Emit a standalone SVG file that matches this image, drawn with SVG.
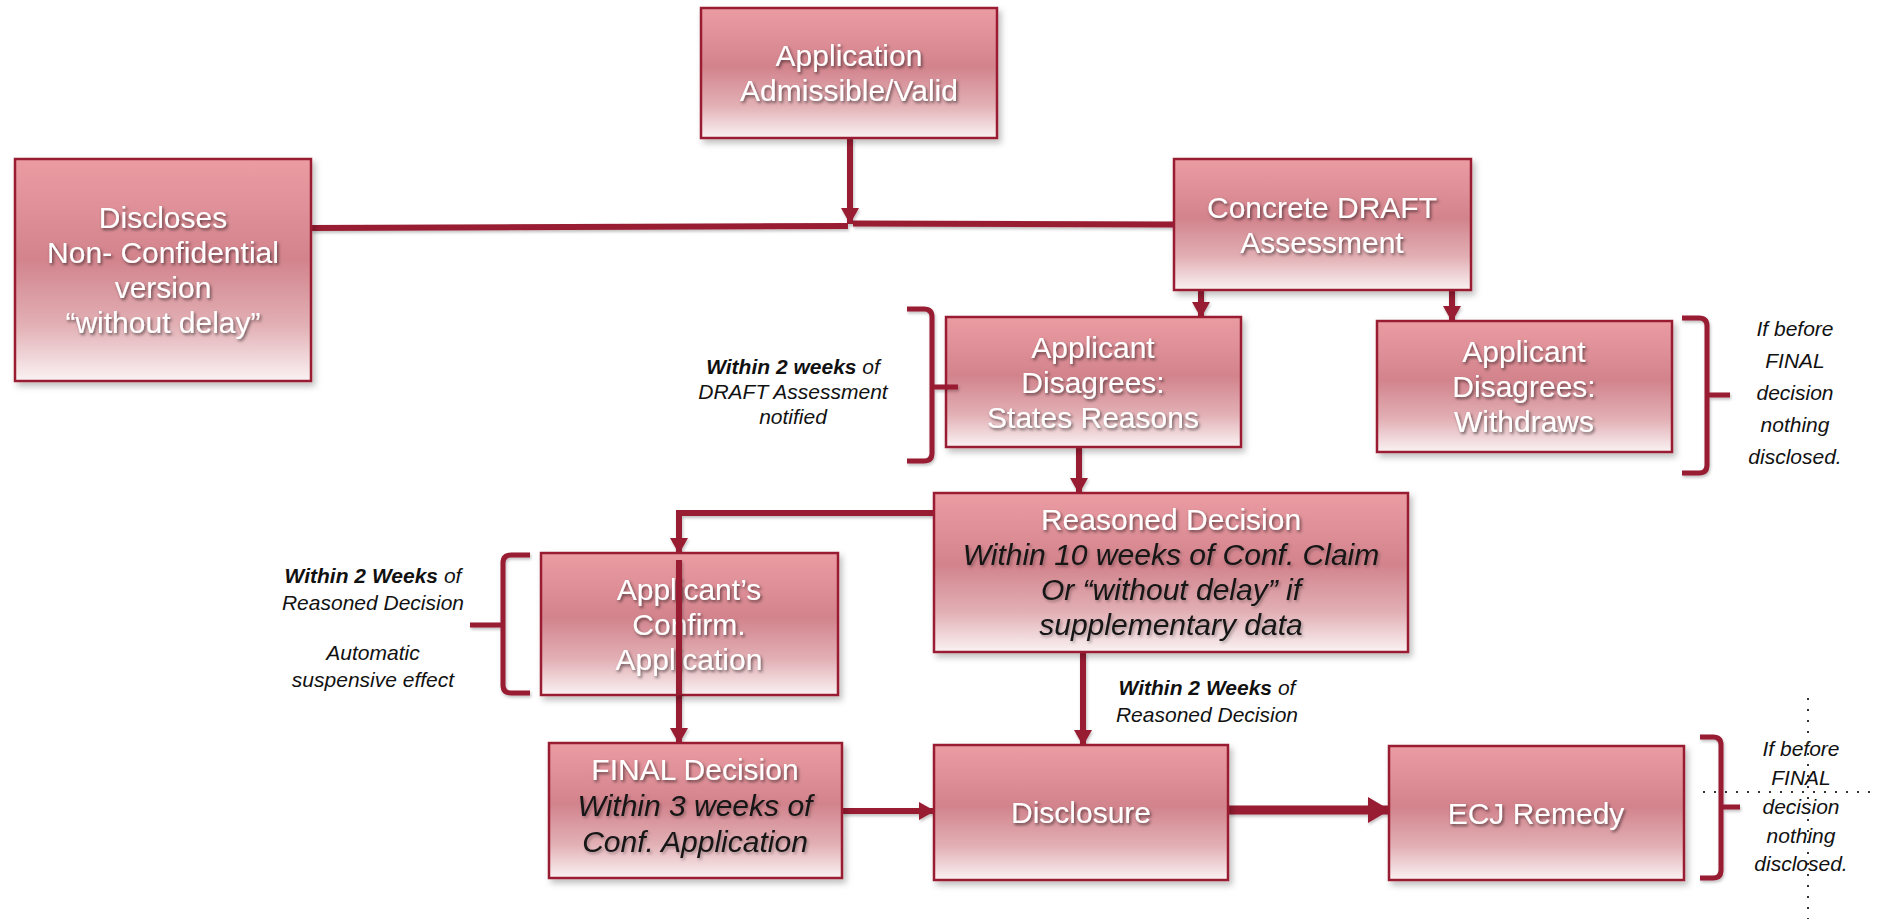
<svg xmlns="http://www.w3.org/2000/svg" width="1878" height="919" viewBox="0 0 1878 919">
<defs>
<linearGradient id="boxFill" x1="0" y1="0" x2="0" y2="1">
<stop offset="0" stop-color="#eb9ca3"/>
<stop offset="0.45" stop-color="#d2838c"/>
<stop offset="0.75" stop-color="#e2b0b5"/>
<stop offset="1" stop-color="#faf2f3"/>
</linearGradient>
<filter id="boxShadow" x="-5%" y="-5%" width="115%" height="120%">
<feDropShadow dx="3" dy="4" stdDeviation="3" flood-color="#000" flood-opacity="0.25"/>
</filter>
<filter id="txtShadow" x="-10%" y="-30%" width="120%" height="160%">
<feDropShadow dx="1.5" dy="2" stdDeviation="1.8" flood-color="#000" flood-opacity="0.55"/>
</filter>
<filter id="txtShadowDark" x="-10%" y="-30%" width="120%" height="160%">
<feDropShadow dx="1.5" dy="2" stdDeviation="1.8" flood-color="#000" flood-opacity="0.3"/>
</filter>
<filter id="lineShadow" filterUnits="userSpaceOnUse" x="0" y="0" width="1878" height="919">
<feDropShadow dx="1" dy="2" stdDeviation="1.5" flood-color="#000" flood-opacity="0.25"/>
</filter>
<marker id="arr" markerUnits="userSpaceOnUse" markerWidth="20" markerHeight="20" viewBox="0 0 20 20" refX="18" refY="10" orient="auto">
<path d="M2,1 L18,10 L2,19 Z" fill="#981c31"/>
</marker>
<marker id="arrBig" markerUnits="userSpaceOnUse" markerWidth="26" markerHeight="28" viewBox="0 0 26 28" refX="24" refY="14" orient="auto">
<path d="M2,1 L24,14 L2,27 Z" fill="#981c31"/>
</marker>
</defs>
<style>
.box{fill:url(#boxFill);stroke:#9a1f33;stroke-width:2.5;filter:url(#boxShadow)}
.t{font-family:"Liberation Sans",Arial,sans-serif;font-size:30px;fill:#ffffff;text-anchor:middle;filter:url(#txtShadow)}
.ti{font-family:"Liberation Sans",Arial,sans-serif;font-size:30px;font-style:italic;fill:#141414;text-anchor:middle;filter:url(#txtShadowDark)}
.conn{fill:none;stroke:#981c31;stroke-width:6;filter:url(#lineShadow)}
.brace{fill:none;stroke:#981c31;stroke-width:5;stroke-linejoin:round;filter:url(#lineShadow)}
.note{font-family:"Liberation Sans",Arial,sans-serif;font-size:21px;font-style:italic;fill:#111;text-anchor:middle}
.b{font-weight:bold}
.dots{fill:none;stroke:#333;stroke-width:2;stroke-dasharray:2 9}
</style>

<g id="connectors">
<line class="conn" x1="850" y1="138" x2="850" y2="224" marker-end="url(#arr)"/>
<path class="conn" d="M311,228 L848,226"/>
<path class="conn" d="M853,223.5 L1174,224.5"/>
<line class="conn" x1="1201" y1="282" x2="1201" y2="318" marker-end="url(#arr)"/>
<line class="conn" x1="1452" y1="284" x2="1452" y2="322" marker-end="url(#arr)"/>
<line class="conn" x1="1079" y1="447" x2="1079" y2="494" marker-end="url(#arr)"/>
<path class="conn" d="M934,513 H679 V554" marker-end="url(#arr)"/>
<line class="conn" x1="679" y1="554" x2="679" y2="744" marker-end="url(#arr)"/>
<line class="conn" x1="1083" y1="652" x2="1083" y2="746" marker-end="url(#arr)"/>
<line class="conn" x1="842" y1="811" x2="935" y2="811" marker-end="url(#arr)"/>
<line class="conn" x1="1228" y1="810" x2="1390" y2="810" style="stroke-width:9" marker-end="url(#arrBig)"/>
</g>

<g id="n-application">
<rect class="box" x="701" y="8" width="296" height="130"/>
<text class="t" x="849" y="66">Application</text>
<text class="t" x="849" y="101">Admissible/Valid</text>
</g>

<g id="n-discloses">
<rect class="box" x="15" y="159" width="296" height="222"/>
<text class="t" x="163" y="228">Discloses</text>
<text class="t" x="163" y="263">Non- Confidential</text>
<text class="t" x="163" y="298">version</text>
<text class="t" x="163" y="333">“without delay”</text>
</g>

<g id="n-concrete">
<rect class="box" x="1174" y="159" width="297" height="131"/>
<text class="t" x="1322" y="218">Concrete DRAFT</text>
<text class="t" x="1322" y="253">Assessment</text>
</g>

<g id="n-states-reasons">
<rect class="box" x="946" y="317" width="295" height="130"/>
<text class="t" x="1093" y="358">Applicant</text>
<text class="t" x="1093" y="393">Disagrees:</text>
<text class="t" x="1093" y="428">States Reasons</text>
</g>

<g id="n-withdraws">
<rect class="box" x="1377" y="321" width="295" height="131"/>
<text class="t" x="1524" y="362">Applicant</text>
<text class="t" x="1524" y="397">Disagrees:</text>
<text class="t" x="1524" y="432">Withdraws</text>
</g>

<g id="n-reasoned">
<rect class="box" x="934" y="493" width="474" height="159"/>
<text class="t" x="1171" y="530">Reasoned Decision</text>
<text class="ti" x="1171" y="565">Within 10 weeks of Conf. Claim</text>
<text class="ti" x="1171" y="600">Or “without delay” if</text>
<text class="ti" x="1171" y="635">supplementary data</text>
</g>

<g id="n-confirm">
<rect class="box" x="541" y="553" width="297" height="142"/>
<text class="t" x="689" y="600">Applicant’s</text>
<text class="t" x="689" y="635">Confirm.</text>
<text class="t" x="689" y="670">Application</text>
</g>
<line id="confirm-passthrough" class="conn" x1="679" y1="560" x2="679" y2="695"/>

<g id="n-final">
<rect class="box" x="549" y="743" width="293" height="135"/>
<text class="t" x="695" y="780">FINAL Decision</text>
<text class="ti" x="695" y="816">Within 3 weeks of</text>
<text class="ti" x="695" y="852">Conf. Application</text>
</g>

<g id="n-disclosure">
<rect class="box" x="934" y="745" width="294" height="135"/>
<text class="t" x="1081" y="823">Disclosure</text>
</g>

<g id="n-ecj">
<rect class="box" x="1389" y="746" width="295" height="134"/>
<text class="t" x="1536" y="824">ECJ Remedy</text>
</g>

<g id="brace-draft">
<path class="brace" d="M907,309 H924 Q932,309 932,317 V453 Q932,461 924,461 H907 M932,387 H958"/>
<text class="note" x="793" y="374"><tspan class="b">Within 2 weeks</tspan> of</text>
<text class="note" x="793" y="399">DRAFT Assessment</text>
<text class="note" x="793" y="424">notified</text>
</g>

<g id="brace-withdraws">
<path class="brace" d="M1682,318 H1699 Q1707,318 1707,326 V465 Q1707,473 1699,473 H1682 M1707,395 H1730"/>
<text class="note" x="1795" y="336" font-size="27">If before</text>
<text class="note" x="1795" y="368" font-size="27">FINAL</text>
<text class="note" x="1795" y="400" font-size="27">decision</text>
<text class="note" x="1795" y="432" font-size="27">nothing</text>
<text class="note" x="1795" y="464" font-size="27">disclosed.</text>
</g>

<g id="brace-confirm">
<path class="brace" d="M530,555 H511 Q503,555 503,563 V685 Q503,693 511,693 H530 M503,625 H470"/>
<text class="note" x="373" y="583"><tspan class="b">Within 2 Weeks</tspan> of</text>
<text class="note" x="373" y="610">Reasoned Decision</text>
<text class="note" x="373" y="660">Automatic</text>
<text class="note" x="373" y="687">suspensive effect</text>
</g>

<g id="label-reasoned-disclosure">
<text class="note" x="1207" y="695"><tspan class="b">Within 2 Weeks</tspan> of</text>
<text class="note" x="1207" y="722">Reasoned Decision</text>
</g>

<g id="brace-ecj">
<path class="brace" d="M1700,737 H1713 Q1721,737 1721,745 V870 Q1721,878 1713,878 H1700 M1721,807 H1740"/>
<text class="note" x="1801" y="756" font-size="25">If before</text>
<text class="note" x="1801" y="785" font-size="25">FINAL</text>
<text class="note" x="1801" y="814" font-size="25">decision</text>
<text class="note" x="1801" y="843" font-size="25">nothing</text>
<text class="note" x="1801" y="871" font-size="25">disclosed.</text>
</g>

<g id="guides">
<line class="dots" x1="1808" y1="698" x2="1808" y2="919"/>
<line class="dots" x1="1703" y1="792" x2="1878" y2="792"/>
</g>
</svg>
